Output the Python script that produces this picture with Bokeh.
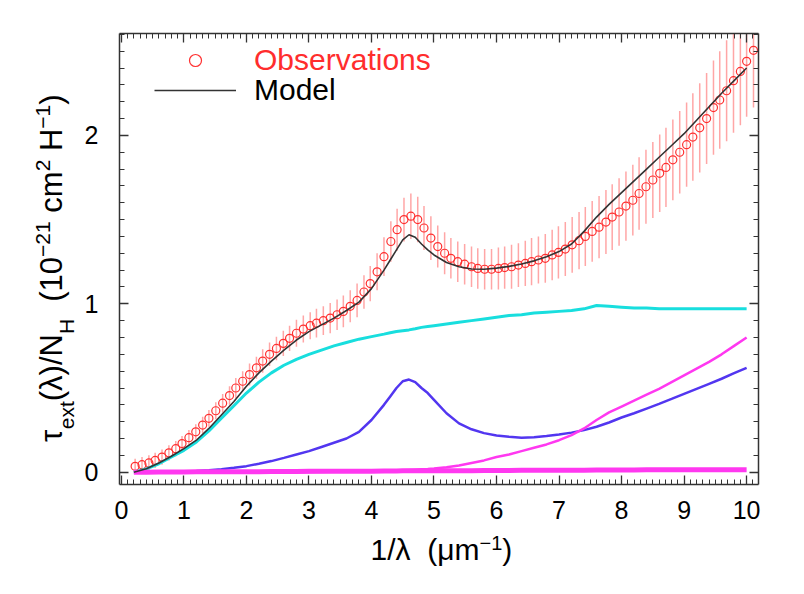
import math
from bokeh.plotting import figure
from bokeh.models import (Range1d, LinearAxis, SingleIntervalTicker, FixedTicker,
                          CustomJSTickFormatter, Legend, LegendItem)
from bokeh.embed import file_html
from bokeh.resources import INLINE

# ---------------- data ----------------
obs_x = [0.22, 0.33, 0.44, 0.54, 0.65, 0.76, 0.87, 0.97, 1.08, 1.19,
         1.30, 1.40, 1.51, 1.62, 1.73, 1.83, 1.94, 2.05, 2.16, 2.26,
         2.37, 2.48, 2.59, 2.69, 2.80, 2.91, 3.02, 3.12, 3.23, 3.34,
         3.45, 3.55, 3.66, 3.77, 3.88, 3.98, 4.09, 4.20, 4.31, 4.41,
         4.52, 4.63, 4.74, 4.84, 4.95, 5.06, 5.17, 5.27, 5.38, 5.49,
         5.60, 5.70, 5.81, 5.92, 6.03, 6.13, 6.24, 6.35, 6.46, 6.56,
         6.67, 6.78, 6.89, 6.99, 7.10, 7.21, 7.32, 7.42, 7.53, 7.64,
         7.75, 7.85, 7.96, 8.07, 8.18, 8.28, 8.39, 8.50, 8.61, 8.71,
         8.82, 8.93, 9.04, 9.14, 9.25, 9.36, 9.47, 9.57, 9.68, 9.79,
         9.90, 10.00, 10.11]
obs_y = [0.035, 0.045, 0.055, 0.07, 0.09, 0.115, 0.14, 0.17, 0.205, 0.24,
         0.28, 0.32, 0.365, 0.41, 0.455, 0.50, 0.54, 0.58, 0.62, 0.66,
         0.70, 0.735, 0.765, 0.795, 0.825, 0.85, 0.87, 0.885, 0.90, 0.915,
         0.935, 0.955, 0.985, 1.02, 1.07, 1.12, 1.19, 1.28, 1.37, 1.44,
         1.50, 1.52, 1.50, 1.45, 1.39, 1.34, 1.30, 1.27, 1.25, 1.235,
         1.22, 1.21, 1.205, 1.205, 1.21, 1.215, 1.22, 1.23, 1.24, 1.25,
         1.26, 1.27, 1.29, 1.305, 1.325, 1.35, 1.375, 1.40, 1.43, 1.455,
         1.485, 1.515, 1.545, 1.58, 1.615, 1.655, 1.695, 1.735, 1.775, 1.81,
         1.855, 1.90, 1.945, 1.99, 2.045, 2.10, 2.165, 2.21, 2.265, 2.325,
         2.38, 2.44, 2.505]
obs_err = [0.045, 0.045, 0.045, 0.045, 0.045, 0.045, 0.045, 0.045,
           0.045, 0.045, 0.05, 0.05, 0.05, 0.055, 0.055, 0.06, 0.06,
           0.065, 0.065, 0.07, 0.07, 0.07, 0.075, 0.075, 0.08, 0.08,
           0.08, 0.085, 0.085, 0.09, 0.09, 0.095, 0.095, 0.10, 0.10,
           0.105, 0.11, 0.115, 0.12, 0.125, 0.13, 0.135, 0.135, 0.13,
           0.13, 0.125, 0.125, 0.12, 0.12, 0.12, 0.12, 0.12, 0.12,
           0.12, 0.125, 0.125, 0.13, 0.13, 0.135, 0.14, 0.14, 0.145,
           0.15, 0.155, 0.16, 0.165, 0.17, 0.175, 0.18, 0.185, 0.19,
           0.195, 0.2, 0.205, 0.21, 0.215, 0.22, 0.225, 0.23, 0.235,
           0.24, 0.245, 0.25, 0.26, 0.265, 0.27, 0.28, 0.29, 0.30,
           0.31, 0.32, 0.33, 0.34]

grid_x = [0.2, 0.4, 0.6, 0.8, 1.0, 1.2, 1.4, 1.6, 1.8, 2.0,
          2.2, 2.4, 2.6, 2.8, 3.0, 3.2, 3.4, 3.6, 3.8, 4.0,
          4.2, 4.3, 4.4, 4.5, 4.6, 4.7, 4.8, 4.9, 5.0, 5.2, 5.4, 5.6, 5.8, 6.0,
          6.2, 6.4, 6.6, 6.8, 7.0, 7.2, 7.4, 7.6, 7.8, 8.0,
          8.2, 8.4, 8.6, 8.8, 9.0, 9.2, 9.4, 9.6, 9.8, 10.0]
model_y = [0.000, 0.020, 0.055, 0.095, 0.140, 0.190, 0.260, 0.340, 0.420, 0.510,
           0.590, 0.660, 0.725, 0.785, 0.835, 0.875, 0.915, 0.960, 1.010, 1.090,
           1.200, 1.260, 1.320, 1.380, 1.410, 1.395, 1.355, 1.320, 1.290, 1.245, 1.220, 1.207, 1.205, 1.212,
           1.222, 1.236, 1.255, 1.280, 1.310, 1.355, 1.430, 1.515, 1.590, 1.660,
           1.730, 1.800, 1.870, 1.940, 2.010, 2.090, 2.170, 2.250, 2.325, 2.400]
cyan_y = [0.000, 0.020, 0.050, 0.090, 0.130, 0.180, 0.245, 0.320, 0.395, 0.470,
          0.535, 0.590, 0.635, 0.670, 0.700, 0.725, 0.750, 0.770, 0.790, 0.805,
          0.820, 0.828, 0.835, 0.840, 0.845, 0.852, 0.860, 0.865, 0.870, 0.880, 0.890, 0.900, 0.910, 0.920,
          0.930, 0.935, 0.945, 0.950, 0.955, 0.960, 0.970, 0.990, 0.985, 0.980,
          0.975, 0.975, 0.970, 0.970, 0.970, 0.970, 0.970, 0.970, 0.970, 0.970]
blue_y = [0.000, 0.000, 0.000, 0.002, 0.004, 0.007, 0.012, 0.018, 0.026, 0.036,
          0.050, 0.066, 0.085, 0.105, 0.125, 0.150, 0.175, 0.200, 0.240, 0.310,
          0.400, 0.450, 0.500, 0.540, 0.550, 0.535, 0.500, 0.470, 0.430, 0.350, 0.290, 0.255, 0.232, 0.218,
          0.210, 0.205, 0.207, 0.215, 0.224, 0.235, 0.250, 0.270, 0.295, 0.325,
          0.350, 0.378, 0.406, 0.435, 0.465, 0.495, 0.525, 0.555, 0.588, 0.620]
magenta_y = [0.000, 0.000, 0.000, 0.000, 0.000, 0.000, 0.000, 0.000, 0.000, 0.000,
             0.000, 0.000, 0.000, 0.000, 0.000, 0.001, 0.002, 0.003, 0.004, 0.006,
             0.008, 0.009, 0.010, 0.011, 0.013, 0.015, 0.017, 0.019, 0.022, 0.030, 0.040, 0.055, 0.070, 0.090,
             0.105, 0.125, 0.145, 0.165, 0.190, 0.220, 0.260, 0.310, 0.355, 0.390,
             0.425, 0.460, 0.495, 0.535, 0.575, 0.615, 0.655, 0.700, 0.750, 0.800]
flat_y = [0.000, 0.000, 0.001, 0.001, 0.001, 0.002, 0.002, 0.002, 0.003, 0.003,
          0.003, 0.004, 0.004, 0.004, 0.005, 0.005, 0.005, 0.006, 0.006, 0.006,
          0.007, 0.007, 0.007, 0.008, 0.008, 0.008, 0.008, 0.008, 0.008, 0.009, 0.009, 0.009, 0.010, 0.010,
          0.010, 0.011, 0.011, 0.011, 0.012, 0.012, 0.012, 0.013, 0.013, 0.013,
          0.013, 0.014, 0.014, 0.014, 0.014, 0.015, 0.015, 0.015, 0.015, 0.015]

legend_labels = ["Observations", "Model"]
# axis titles as pieces: (text, role) -> role: main / sub / sup / gap
x_title = [("1/λ", "main"), ("  ", "gap"), ("(μm", "main"), ("−1", "sup"), (")", "main")]
y_title = [("τ", "main"), ("ext", "sub"), ("(λ)/N", "main"), ("H", "sub"), ("  ", "gap"),
           ("(10", "main"), ("−21", "sup"), (" ", "gap"), ("cm", "main"), ("2", "sup"),
           (" ", "gap"), ("H", "main"), ("−1", "sup"), (")", "main")]

FONT = "Liberation Sans"
RED = "#ff2d2d"

X0, X1 = -0.03, 10.19
Y0, Y1 = -0.073, 2.605
FL, FR, FT, FB = 119, 758, 33, 484   # frame edges in canvas px
W_FIG, H_FIG = 788, 578

# ---------------- figure ----------------
p = figure(width=W_FIG, height=H_FIG, output_backend="svg", toolbar_location=None,
           x_range=Range1d(X0, X1), y_range=Range1d(Y0, Y1),
           x_axis_type=None, y_axis_type=None,
           min_border_left=FL, min_border_right=W_FIG - FR,
           min_border_top=FT, min_border_bottom=H_FIG - FB)
p.outline_line_color = None
p.background_fill_color = "white"
p.border_fill_color = "white"


def make_axis(with_labels):
    ax = LinearAxis(ticker=SingleIntervalTicker(interval=1, num_minor_ticks=10))
    ax.major_tick_in = 9
    ax.major_tick_out = 0
    ax.minor_tick_in = 5
    ax.minor_tick_out = 0
    ax.axis_line_color = "#333333"
    ax.axis_line_width = 1.5
    ax.major_tick_line_color = "#333333"
    ax.major_tick_line_width = 1.3
    ax.minor_tick_line_color = "#333333"
    ax.minor_tick_line_width = 1
    if with_labels:
        ax.major_label_text_font = FONT
        ax.major_label_text_font_size = "25px"
        ax.major_label_text_color = "black"
    else:
        ax.formatter = CustomJSTickFormatter(code="return ''")
        ax.major_label_standoff = 0
        ax.major_label_text_font_size = "1px"
    return ax


xb = make_axis(True)
xb.major_label_standoff = 16
yl = make_axis(True)
yl.major_label_standoff = 21
p.add_layout(xb, "below")
p.add_layout(yl, "left")
p.add_layout(make_axis(False), "above")
p.add_layout(make_axis(False), "right")

# ---------------- axis titles from pieces (tick labels of label-only axes) ----------------
W = {'τ': 0.43, 'e': 0.556, 'x': 0.5, 't': 0.278, '(': 0.333, ')': 0.333, 'λ': 0.5,
     '/': 0.278, 'N': 0.722, 'H': 0.722, ' ': 0.278, '1': 0.556, '0': 0.556,
     '−': 0.584, '2': 0.556, 'c': 0.5, 'm': 0.833, 'μ': 0.576}


def tw(s, size):
    return sum(W[c] for c in s) * size


def split_pieces(pieces, sizes, start, direction, to_data):
    groups = {"main": ([], []), "sub": ([], []), "sup": ([], [])}
    cum = 0.0
    for t, r in pieces:
        w = tw(t, sizes[r])
        if r != "gap":
            pos = start + direction * (cum + w / 2)
            groups[r][0].append(to_data(pos))
            groups[r][1].append(t)
        cum += w
    return groups


def label_axis(ticks, texts, size, standoff, orientation):
    ax = LinearAxis(ticker=FixedTicker(ticks=ticks, minor_ticks=[]),
                    formatter=CustomJSTickFormatter(args=dict(txt=texts), code="return txt[index]"))
    ax.major_label_orientation = orientation
    ax.major_label_text_font = FONT
    ax.major_label_text_font_size = "%dpx" % size
    ax.major_label_text_color = "black"
    ax.major_label_standoff = standoff
    ax.axis_line_color = None
    ax.major_tick_line_color = None
    ax.minor_tick_line_color = None
    ax.major_tick_in = 0
    ax.major_tick_out = 0
    ax.minor_tick_in = 0
    ax.minor_tick_out = 0
    return ax


# y title
YS = {"main": 31, "gap": 31, "sub": 21, "sup": 21}
ytot = sum(tw(t, YS[r]) for t, r in y_title)
yg = split_pieces(y_title, YS, 268 + ytot / 2, -1,
                  lambda py: Y0 + (FB - py) / (FB - FT) * (Y1 - Y0))
p.add_layout(label_axis(*yg["sub"], YS["sub"], 3, "vertical"), "left")
p.add_layout(label_axis(*yg["main"], YS["main"], -17, "vertical"), "left")
p.add_layout(label_axis(*yg["sup"], YS["sup"], -19, "vertical"), "left")

# x title
XS = {"main": 30, "gap": 30, "sub": 20, "sup": 20}
xg = split_pieces(x_title, XS, 370, 1,
                  lambda px: X0 + (px - FL) / (FR - FL) * (X1 - X0))
p.add_layout(label_axis(*xg["sup"], XS["sup"], 14, "horizontal"), "below")
p.add_layout(label_axis(*xg["main"], XS["main"], -20, "horizontal"), "below")

# ---------------- data glyphs ----------------
lo = [y - e for y, e in zip(obs_y, obs_err)]
hi = [y + e for y, e in zip(obs_y, obs_err)]
p.segment(x0=obs_x, y0=lo, x1=obs_x, y1=hi, line_color="#ff6a6a", line_alpha=0.6, line_width=1.5)
obs_r = p.scatter(obs_x, obs_y, marker="circle", size=8, fill_color=None,
                  line_color="#ff3030", line_width=1.2)

p.line(grid_x, cyan_y, line_color="#18dede", line_width=3)
p.line(grid_x, blue_y, line_color="#5236f0", line_width=2.5)
p.line(grid_x, magenta_y, line_color="#ff38f0", line_width=2.5)
p.line(grid_x, flat_y, line_color="#ff38f0", line_width=5)
model_r = p.line(grid_x, model_y, line_color="#333333", line_width=1.6)


# ---------------- legend ----------------
def make_legend(label, rend, color, loc):
    lg = Legend(items=[LegendItem(label=label, renderers=[rend])], location=loc)
    lg.label_text_font = FONT
    lg.label_text_font_size = "30px"
    lg.label_text_color = color
    lg.glyph_width = 82
    lg.glyph_height = 30
    lg.label_height = 30
    lg.label_standoff = 18
    lg.padding = 0
    lg.margin = 0
    lg.spacing = 0
    lg.border_line_color = None
    lg.background_fill_alpha = 0
    return lg


p.add_layout(make_legend(legend_labels[0], obs_r, RED, (35, 407)))
p.add_layout(make_legend(legend_labels[1], model_r, "black", (35, 377)))

open("out.html", "w").write(file_html(p, INLINE))
